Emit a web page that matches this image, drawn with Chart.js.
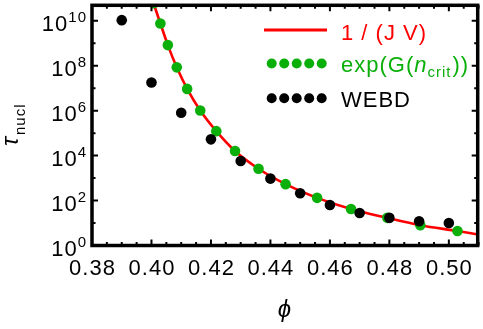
<!DOCTYPE html>
<html><head><meta charset="utf-8">
<script src="https://cdn.jsdelivr.net/npm/chart.js@4"></script>
<style>html,body{margin:0;padding:0;background:#fff}#wrap{width:483px;height:329px;position:relative}</style>
</head><body><div id="wrap"><canvas id="c" width="483" height="329"></canvas></div>
<script>
// WEBD data
const webdPhi = [0.39, 0.40, 0.41, 0.42, 0.43, 0.44, 0.45, 0.46, 0.47, 0.48, 0.49, 0.50];
const webdTau = [1.07e10, 1.8e7, 8.1e5, 5.3e4, 5.8e3, 950, 212, 63, 28, 17, 12, 10];
// exp(G(n_crit)) data
const gPhi = [0.4007, 0.403, 0.4055, 0.4085, 0.412, 0.4164, 0.4218, 0.4281, 0.436, 0.4451, 0.4557, 0.4671, 0.4793, 0.4904, 0.5029];
const gTau = [6.0e10, 7.6e9, 8.3e8, 8.5e7, 9.3e6, 1.02e6, 1.23e5, 1.6e4, 2.6e3, 537, 132, 42, 17, 8, 4.4];
// 1/(J V) curve
const curvePhi = [0.3998, 0.4007, 0.403, 0.4055, 0.4085, 0.412, 0.4164, 0.4218, 0.4281, 0.436, 0.4451, 0.4557, 0.4671, 0.4793, 0.4904, 0.5029, 0.5097];
const curveTau = [1.35e11, 6.0e10, 7.6e9, 8.3e8, 8.5e7, 9.3e6, 1.02e6, 1.23e5, 1.6e4, 2.6e3, 537, 132, 42, 17, 8, 4.4, 3.1];
// ticks
const xTickValues = [0.38, 0.40, 0.42, 0.44, 0.46, 0.48, 0.50];
const xTickLabels = ['0.38', '0.40', '0.42', '0.44', '0.46', '0.48', '0.50'];
const yTickExponents = [0, 2, 4, 6, 8, 10];

const RED = 'rgb(255,0,0)';
const GREEN = 'rgb(10,175,10)';
const FONT = '"Liberation Sans", Arial, sans-serif';

function pts(xs, ys) { return xs.map((x, i) => ({ x: x, y: ys[i] })); }

const framePlugin = {
  id: 'frame',
  afterDraw(chart) {
    const ctx = chart.ctx;
    const a = chart.chartArea;
    const xs = chart.scales.x, ys = chart.scales.y;
    ctx.save();
    ctx.strokeStyle = '#000';
    // ticks
    ctx.lineWidth = 2;
    ctx.beginPath();
    for (let k = 0; k <= 26; k++) {
      const v = 0.38 + k * 0.005;
      const px = xs.getPixelForValue(v);
      if (px > a.right + 1) break;
      const len = (k % 4 === 0) ? 6 : 3.5;
      ctx.moveTo(px, a.bottom); ctx.lineTo(px, a.bottom - len);
      ctx.moveTo(px, a.top); ctx.lineTo(px, a.top + len);
    }
    for (let e = 0; e <= 10; e++) {
      const py = ys.getPixelForValue(Math.pow(10, e));
      const len = (e % 2 === 0) ? 6 : 3.5;
      ctx.moveTo(a.left, py); ctx.lineTo(a.left + len, py);
      ctx.moveTo(a.right, py); ctx.lineTo(a.right - len, py);
    }
    ctx.stroke();
    // frame
    ctx.lineWidth = 3.5;
    ctx.strokeRect(a.left, a.top, a.right - a.left, a.bottom - a.top);

    ctx.fillStyle = '#000';
    try { ctx.letterSpacing = '1px'; } catch (e) {}
    // x tick labels
    ctx.font = '22px ' + FONT;
    ctx.textAlign = 'center';
    ctx.textBaseline = 'alphabetic';
    xTickValues.forEach((v, i) => {
      ctx.fillText(xTickLabels[i], xs.getPixelForValue(v) + 0.5, 275);
    });
    // y tick labels 10^n
    ctx.textAlign = 'left';
    yTickExponents.forEach(e => {
      const py = ys.getPixelForValue(Math.pow(10, e));
      ctx.font = '15px ' + FONT;
      const sup = String(e);
      const ws = ctx.measureText(sup).width;
      ctx.font = '22px ' + FONT;
      const wm = ctx.measureText('10').width;
      const right = 87;
      const x0 = right - ws - wm;
      ctx.fillText('10', x0, py + 10);
      ctx.font = '15px ' + FONT;
      ctx.fillText(sup, x0 + wm, py + 1);
    });
    // axis titles
    ctx.font = 'italic 24px ' + FONT;
    ctx.textAlign = 'center';
    ctx.fillText('ϕ', (a.left + a.right) / 2, 317);
    ctx.save();
    ctx.translate(18, 146);
    ctx.rotate(-Math.PI / 2);
    ctx.textAlign = 'left';
    ctx.font = 'italic 24px ' + FONT;
    ctx.fillText('τ', 0, 0);
    const wt = ctx.measureText('τ').width;
    ctx.font = '15px ' + FONT;
    ctx.fillText('nucl', wt + 1, 7);
    ctx.restore();

    // legend
    ctx.strokeStyle = RED;
    ctx.lineWidth = 3;
    ctx.beginPath(); ctx.moveTo(264, 30); ctx.lineTo(327, 30); ctx.stroke();
    ctx.font = '22px ' + FONT;
    ctx.textAlign = 'left';
    ctx.fillStyle = RED;
    ctx.fillText('1 / (J V)', 341, 39.5);
    for (let i = 0; i < 5; i++) {
      ctx.fillStyle = GREEN;
      ctx.beginPath(); ctx.arc(271.7 + i * 12.5, 63.5, 5, 0, 2 * Math.PI); ctx.fill();
      ctx.fillStyle = '#000';
      ctx.beginPath(); ctx.arc(271.7 + i * 12.5, 98.3, 5, 0, 2 * Math.PI); ctx.fill();
    }
    ctx.fillStyle = GREEN;
    let x = 341;
    ctx.font = '22px ' + FONT;
    ctx.fillText('exp(G(', x, 71.7); x += ctx.measureText('exp(G(').width;
    ctx.font = 'italic 22px ' + FONT;
    ctx.fillText('n', x, 71.7); x += ctx.measureText('n').width;
    ctx.font = '15px ' + FONT;
    ctx.fillText('crit', x, 76.5); x += ctx.measureText('crit').width + 1;
    ctx.font = '22px ' + FONT;
    ctx.fillText('))', x, 71.7);
    ctx.fillStyle = '#000';
    ctx.fillText('WEBD', 341, 106.7);
    ctx.restore();
  }
};

new Chart(document.getElementById('c'), {
  type: 'scatter',
  data: {
    datasets: [
      { label: 'WEBD', data: pts(webdPhi, webdTau), backgroundColor: '#000', borderWidth: 0, pointRadius: 5.3, order: 0, clip: 0 },
      { label: 'exp(G(n_crit))', data: pts(gPhi, gTau), backgroundColor: GREEN, borderWidth: 0, pointRadius: 5.3, order: 1, clip: 0 },
      { label: '1 / (J V)', data: pts(curvePhi, curveTau), showLine: true, borderColor: RED, borderWidth: 2.6, pointRadius: 0, cubicInterpolationMode: 'monotone', order: 2, clip: 0 }
    ]
  },
  options: {
    responsive: false,
    animation: false,
    devicePixelRatio: 1,
    layout: { padding: { left: 92, right: 2, top: 4.5, bottom: 83.5 } },
    plugins: { legend: { display: false }, tooltip: { enabled: false } },
    scales: {
      x: { type: 'linear', min: 0.38, max: 0.5097, display: false },
      y: { type: 'logarithmic', min: 1, max: 4.9e10, display: false }
    }
  },
  plugins: [framePlugin]
});
</script>
</body></html>
